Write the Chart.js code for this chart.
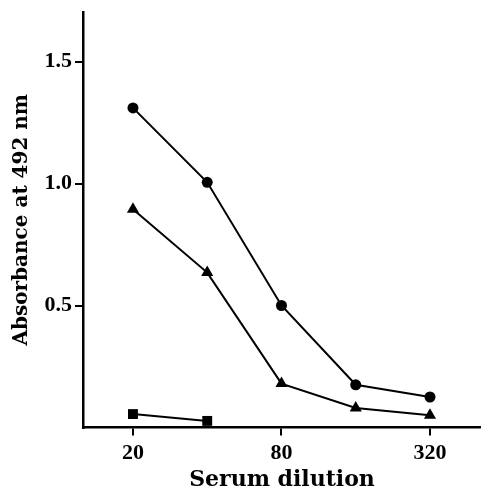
<!DOCTYPE html>
<html>
<head>
<meta charset="utf-8">
<script src="https://cdn.jsdelivr.net/npm/chart.js@4/dist/chart.umd.min.js"></script>
<style>
html,body{margin:0;padding:0;background:#fff;overflow:hidden;}
#wrap{width:481px;height:491px;overflow:hidden;}
canvas{display:block;}
</style>
</head>
<body>
<div id="wrap"><canvas id="c" width="481" height="491"></canvas></div>
<script>
// Serum dilution categories (x positions are their index on the axis)
const dilutions = [20, 40, 80, 160, 320];
const xTickDilutions = [20, 80, 320];
const yTickValues = [0.5, 1.0, 1.5];

// Absorbance at 492 nm
const circleSeries   = [1.31, 1.005, 0.50, 0.175, 0.125];
const triangleSeries = [0.895, 0.635, 0.18, 0.08, 0.05];
const squareSeries   = [0.055, 0.027, null, null, null];

function toPoints(values) {
  return values.map((v, i) => ({ x: i, y: v })).filter(p => p.y !== null);
}

function makeSet(values, style, radius) {
  return {
    data: toPoints(values),
    borderColor: '#000',
    backgroundColor: '#000',
    borderWidth: 2,
    pointStyle: style,
    pointRadius: radius,
    pointHoverRadius: radius,
    pointBorderWidth: 0,
    tension: 0,
    fill: false,
    clip: false
  };
}

const tickFont = { family: 'Liberation Serif', size: 22, weight: 'bold', lineHeight: 1 };
const titleFont = { family: 'DejaVu Serif', size: 20, weight: 'bold', lineHeight: 1 };

new Chart(document.getElementById('c'), {
  type: 'line',
  data: {
    datasets: [
      makeSet(circleSeries, 'circle', 5.5),
      makeSet(triangleSeries, 'triangle', 7),
      makeSet(squareSeries, 'rect', 7)
    ]
  },
  options: {
    responsive: false,
    animation: false,
    events: [],
    layout: { autoPadding: false, padding: { top: 12, left: 0, right: 0, bottom: 0 } },
    plugins: { legend: { display: false }, tooltip: { enabled: false } },
    scales: {
      x: {
        type: 'linear',
        min: -0.673,
        max: 4.687,
        afterBuildTicks: s => { s.ticks = xTickDilutions.map(d => ({ value: dilutions.indexOf(d) })); },
        afterFit: s => {
          s.height = 63.5;
          s.paddingRight = 0; s.paddingLeft = 0;
          if (s._margins) { s._margins.right = 0; }
        },
        border: { display: true, color: '#000', width: 2.5 },
        grid: { display: true, drawOnChartArea: false, drawTicks: true, tickLength: 8, color: '#000', lineWidth: 2 },
        ticks: {
          color: '#000',
          font: tickFont,
          padding: 7,
          maxRotation: 0,
          autoSkip: false,
          callback: v => String(dilutions[Math.round(v)])
        },
        title: {
          display: true,
          text: 'Serum dilution',
          color: '#000',
          font: { family: 'DejaVu Serif', size: 22, weight: 'bold', lineHeight: 1 },
          padding: { top: 0, bottom: 0 }
        }
      },
      y: {
        type: 'linear',
        min: 0,
        max: 1.703,
        afterBuildTicks: s => { s.ticks = yTickValues.map(v => ({ value: v })); },
        afterFit: s => {
          s.width = 83;
          s.paddingTop = 0; s.paddingBottom = 0;
          if (s._margins) { s._margins.top = 0; }
        },
        border: { display: true, color: '#000', width: 2.5 },
        grid: { display: true, drawOnChartArea: false, drawTicks: true, tickLength: 8, color: '#000', lineWidth: 2 },
        ticks: {
          color: '#000',
          font: tickFont,
          padding: 3,
          callback: v => v.toFixed(1)
        },
        title: {
          display: true,
          text: 'Absorbance at 492 nm',
          color: '#000',
          font: titleFont,
          padding: { top: 12, bottom: 0 }
        }
      }
    }
  }
});
</script>
</body>
</html>
